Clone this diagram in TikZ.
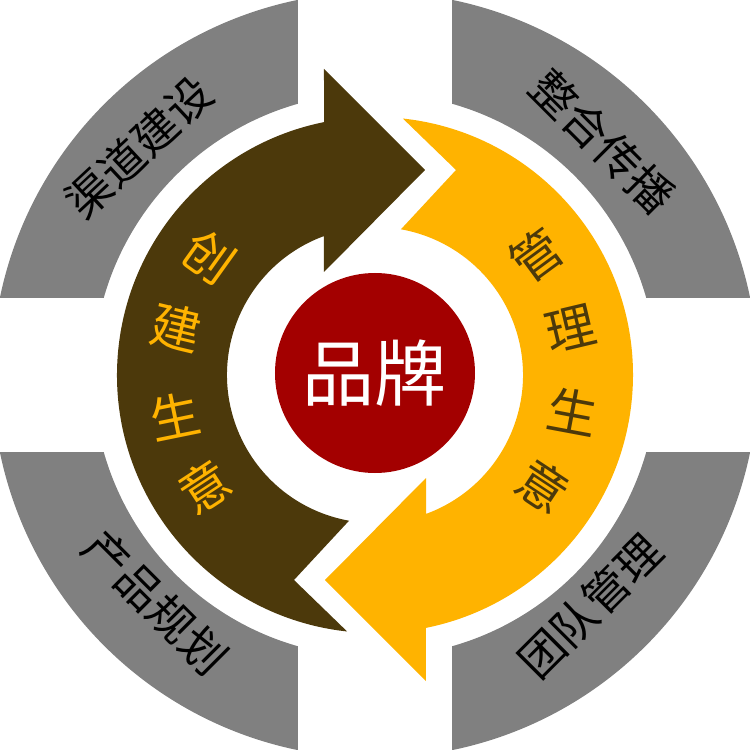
\documentclass[tikz,border=0pt]{standalone}
\usepackage{fontspec}
\newfontfamily\cjk{Noto Sans CJK SC}
\definecolor{segGray}{HTML}{808080}
\definecolor{arrBrown}{HTML}{4C390B}
\definecolor{arrYellow}{HTML}{FFB300}
\definecolor{coreRed}{HTML}{A30000}
\tikzset{
  seglabel/.style={inner sep=0pt, text=black, font=\cjk\fontsize{45}{45}\selectfont},
  arcchar/.style={inner sep=0pt, font=\cjk\fontsize{50}{50}\selectfont},
  core/.style={circle, fill=coreRed, minimum size=200pt, inner sep=0pt, text=white, font=\cjk\fontsize{72}{72}\selectfont}
}
\begin{document}
\begin{tikzpicture}[x=1pt,y=1pt]
\useasboundingbox (-375,-375) rectangle (375,375);
\clip (-375,-375) rectangle (375,375);
% gray ring segments
\foreach \r in {0,90,180,270}{
  \fill[segGray] ({\r+105.85}:282) -- ({\r+101.6}:383)
    arc[start angle={\r+101.6}, end angle={\r+168.4}, radius=383]
    -- ({\r+164.15}:282)
    arc[start angle={\r+164.15}, end angle={\r+105.85}, radius=282] -- cycle;
}
% brown arrow (left, pointing right at top)
\fill[arrBrown] (263.8:258) arc[start angle=263.8, end angle=101.4, radius=258]
  -- (-51,306) -- (50,205) -- (-51,103) -- (110.2:148)
  arc[start angle=110.2, end angle=259.9, radius=148] -- (-81,-205) -- cycle;
% yellow arrow (right, pointing left at bottom)
\fill[arrYellow] (83.8:258) arc[start angle=83.8, end angle=-78.6, radius=258]
  -- (51,-306) -- (-50,-205) -- (51,-103) -- (-69.8:148)
  arc[start angle=-69.8, end angle=79.9, radius=148] -- (81,205) -- cycle;
% center
\node[core] (brand) at (0,2) {品牌};
% segment labels
\node[seglabel, rotate=43] (lab1) at (136:328) {渠道建设};
\node[seglabel, rotate=-45] (lab2) at (45.7:326) {整合传播};
\node[seglabel, rotate=-45] (lab3) at (226:316) {产品规划};
\node[seglabel, rotate=45] (lab4) at (-47:316) {团队管理};
% arc texts
\foreach \a/\c [count=\i] in {144.4/创,166.5/建,191.5/生,213.3/意}{
  \node[arcchar, text=arrYellow, rotate=\a-180] (left\i) at (\a:204) {\c};
}
\foreach \a/\c [count=\i] in {36.4/管,13.4/理,-10.6/生,-33.4/意}{
  \node[arcchar, text=arrBrown, rotate=\a] (right\i) at (\a:201) {\c};
}
\end{tikzpicture}
\end{document}
